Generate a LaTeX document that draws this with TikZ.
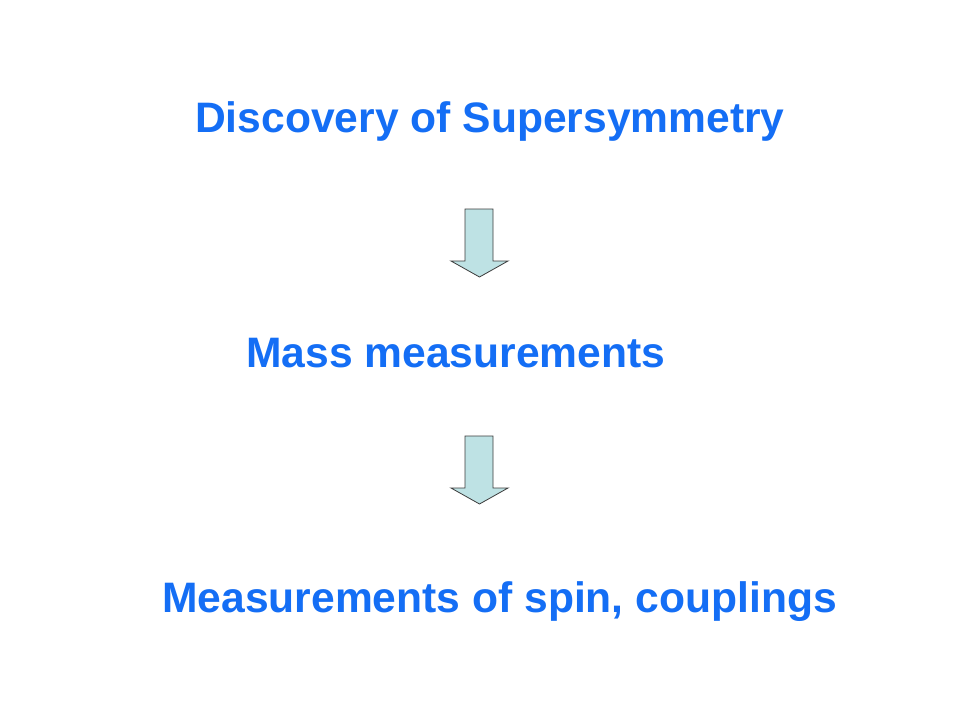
\documentclass[tikz,border=0pt]{standalone}
\usepackage{fontspec}
\setmainfont{Liberation Sans}
\definecolor{txtblue}{RGB}{20,110,245}
\definecolor{arrfill}{RGB}{190,226,228}
\definecolor{arrline}{RGB}{60,60,60}
\begin{document}
\begin{tikzpicture}[x=1pt,y=-1pt,
  label/.style={anchor=base west,inner sep=0pt,text=txtblue,font=\fontsize{42.6}{48}\selectfont\bfseries},
  downarrow/.style={fill=arrfill,draw=arrline,line width=0.8pt,line join=miter}]
\useasboundingbox[fill=white] (0,0) rectangle (960,720);
\node[label] (disc) at (195,132) {Discovery of Supersymmetry};
\node[label] (mass) at (246,367) {Mass measurements};
\node[label] (meas) at (162,612) {Measurements of spin, couplings};
\draw[downarrow] (465,209) -- (493,209) -- (493,261) -- (508,261) -- (479.5,277) -- (451,261) -- (465,261) -- cycle;
\draw[downarrow] (465,436) -- (493,436) -- (493,488) -- (508,488) -- (479.5,504) -- (451,488) -- (465,488) -- cycle;
\end{tikzpicture}
\end{document}
